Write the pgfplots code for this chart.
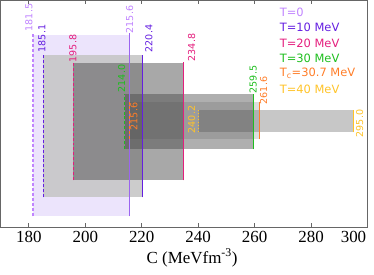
\documentclass[border=0pt]{standalone}
\usepackage{pgfplots}
\pgfplotsset{compat=1.18}
\usepackage{fontspec}
\setmainfont{Liberation Serif}
\newfontfamily\djv{DejaVu Sans}
\definecolor{cA}{RGB}{192,132,255}
\definecolor{cAr}{RGB}{155,100,240}
\definecolor{cB}{RGB}{100,30,225}
\definecolor{cC}{RGB}{228,30,125}
\definecolor{cD}{RGB}{30,190,30}
\definecolor{cE}{RGB}{255,125,40}
\definecolor{cF}{RGB}{255,195,40}
\definecolor{fA}{RGB}{236,228,252}
\tikzset{
  rotated/.style={rotate=90, anchor=west, inner sep=0pt, font=\djv\fontsize{9.6}{10}\selectfont},
  leg/.style={anchor=west, inner sep=0pt, font=\djv\fontsize{11.5}{12}\selectfont},
}
\begin{document}
\begin{tikzpicture}
\begin{axis}[
  width=367bp, height=227bp, scale only axis,
  xmin=170, xmax=300, ymin=0, ymax=227,
  ytick=\empty,
  xtick={180,200,220,240,260,280},
  extra x ticks={300},
  extra x tick style={grid=none, xticklabel style={xshift=-14bp}},
  xtick pos=both, xticklabel pos=bottom,
  tick align=inside,
  major tick length=4bp,
  axis line style={black!60, line width=0.8pt},
  tick style={black!60, line width=0.8pt},
  /pgf/number format/assume math mode=true,
  ticklabel style={font=\fontsize{17}{17}\selectfont},
  xlabel={C (MeVfm\textsuperscript{-3})},
  xlabel style={font=\fontsize{17}{17}\selectfont, xshift=8bp},
]
% boxes
\addplot[fill=fA, draw=none] coordinates {(181.5,11) (215.6,11) (215.6,192) (181.5,192)} -- cycle;
\addplot[fill=black!22, fill opacity=0.9, draw=none] coordinates {(185.1,30) (220.4,30) (220.4,172) (185.1,172)} -- cycle;
\addplot[fill=black!72, fill opacity=0.47, draw=none] coordinates {(195.8,47) (234.8,47) (234.8,164) (195.8,164)} -- cycle;
\addplot[fill=black!75, fill opacity=0.42, draw=none] coordinates {(214.0,78) (259.5,78) (259.5,133) (214.0,133)} -- cycle;
\addplot[fill=black!72, fill opacity=0.18, draw=none] coordinates {(215.6,88) (261.6,88) (261.6,125) (215.6,125)} -- cycle;
\addplot[fill=black!72, fill opacity=0.3, draw=none] coordinates {(240.2,95) (295.0,95) (295.0,117) (240.2,117)} -- cycle;
% edges
\addplot[cA, line width=1.4pt, dash pattern=on 3pt off 2pt] coordinates {(181.5,11) (181.5,194)};
\addplot[cAr, line width=1.2pt] coordinates {(215.6,11) (215.6,194)};
\addplot[cB, line width=1.4pt, dash pattern=on 3pt off 2pt] coordinates {(185.1,30) (185.1,172)};
\addplot[cB, line width=1.2pt] coordinates {(220.4,30) (220.4,172)};
\addplot[cC, line width=1.4pt, dash pattern=on 3pt off 2pt] coordinates {(195.8,47) (195.8,165)};
\addplot[cC, line width=1.2pt] coordinates {(234.8,47) (234.8,165)};
\addplot[cD, line width=1.4pt, dash pattern=on 3pt off 2pt] coordinates {(214.0,78) (214.0,133)};
\addplot[cD, line width=1.2pt] coordinates {(259.5,78) (259.5,133)};
\addplot[cE, line width=1.4pt, dash pattern=on 3pt off 2pt] coordinates {(215.6,88) (215.6,125)};
\addplot[cE, line width=1.2pt] coordinates {(261.6,88) (261.6,125)};
\addplot[cF, line width=1.4pt, dash pattern=on 1.5pt off 1.5pt] coordinates {(240.2,95) (240.2,117)};
\addplot[cF, line width=1.2pt] coordinates {(295.0,95) (295.0,117)};
% value labels
\node[rotated, text=cA] at (axis cs:180.0,196) {181.5};
\node[rotated, text=cA] at (axis cs:215.75,194) {215.6};
\node[rotated, text=cB] at (axis cs:184.6,175) {185.1};
\node[rotated, text=cB] at (axis cs:222.5,175) {220.4};
\node[rotated, text=cC] at (axis cs:195.6,165) {195.8};
\node[rotated, text=cC] at (axis cs:237.7,166) {234.8};
\node[rotated, text=cD] at (axis cs:212.9,135) {214.0};
\node[rotated, text=cD] at (axis cs:259.5,134) {259.5};
\node[rotated, text=cE] at (axis cs:217.2,97) {215.6};
\node[rotated, text=cE] at (axis cs:263.2,123) {261.6};
\node[rotated, text=cF] at (axis cs:237.7,94) {240.2};
\node[rotated, text=cF] at (axis cs:297.2,90) {295.0};
% legend texts
\node[leg, text=cA] at (axis cs:268.85,215) {T=0};
\node[leg, text=cB] at (axis cs:268.85,200) {T=10 MeV};
\node[leg, text=cC] at (axis cs:268.85,184) {T=20 MeV};
\node[leg, text=cD] at (axis cs:268.85,169) {T=30 MeV};
\node[leg, text=cE] at (axis cs:268.85,154) {T\textsubscript{c}=30.7 MeV};
\node[leg, text=cF] at (axis cs:268.85,138) {T=40 MeV};
\end{axis}
\pgfresetboundingbox
\path ([xshift=-0.6bp,yshift=0.4bp]current axis.north west) rectangle ([xshift=6.5bp,yshift=-47.6bp]current axis.south east);
\end{tikzpicture}
\end{document}
